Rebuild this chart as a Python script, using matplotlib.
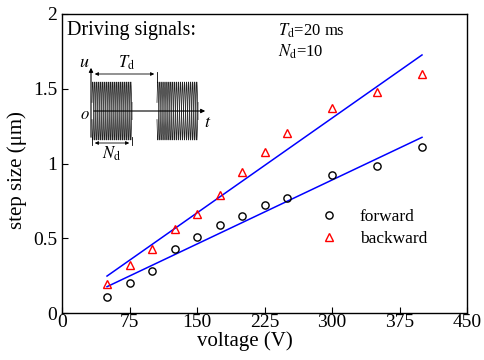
import numpy as np
import matplotlib
matplotlib.use("Agg")
import matplotlib.pyplot as plt

plt.rcParams['font.family'] = ['Liberation Serif', 'DejaVu Serif']
plt.rcParams['mathtext.fontset'] = 'stix'

voltage = [50, 75, 100, 125, 150, 175, 200, 225, 250, 300, 350, 400]
forward = [0.105, 0.203, 0.281, 0.428, 0.508, 0.591, 0.651, 0.722, 0.771, 0.923, 0.983, 1.112]
backward = [0.194, 0.321, 0.428, 0.560, 0.660, 0.789, 0.943, 1.079, 1.202, 1.371, 1.478, 1.597]
fit_x = [50, 400]
forward_fit = [0.176, 1.175]
backward_fit = [0.247, 1.726]
xticks = [0, 75, 150, 225, 300, 375, 450]
yticks = [0, 0.5, 1, 1.5, 2]
ytick_labels = ['0', '0.5', '1', '1.5', '2']
n_cycles = 10

W, H = 484, 360
fig = plt.figure(figsize=(W / 100, H / 100), dpi=100)
ax = fig.add_axes([62 / W, 1 - 313 / H, (467 - 62) / W, (313 - 14) / H])

ax.plot(fit_x, forward_fit, color='#0000ff', lw=1.1)
ax.plot(fit_x, backward_fit, color='#0000ff', lw=1.1)
ax.plot(voltage, forward, 'o', mfc='none', mec='black', ms=5.2, mew=1.0,
        label='forward', linestyle='none')
ax.plot(voltage, backward, '^', mfc='none', mec='red', ms=6, mew=1.0,
        label='backward', linestyle='none')

ax.set_xlim(0, 450)
ax.set_ylim(0, 2)
ax.set_xticks(xticks)
ax.set_xticklabels([str(v) for v in xticks])
ax.set_yticks(yticks)
ax.set_yticklabels(ytick_labels)
ax.tick_params(direction='in', length=4, width=0.8, labelsize=14, pad=1,
               top=False, right=False)
ax.tick_params(axis='y', pad=3.5)
for s in ax.spines.values():
    s.set_linewidth(1.0)
ax.set_xlabel('voltage (V)', fontsize=15)
ax.set_ylabel('step size (μm)', fontsize=15)
ax.xaxis.set_label_coords(0.452, -0.062)
ax.yaxis.set_label_coords(-0.086, 0.478)

ax.legend(loc='upper left', bbox_to_anchor=(0.62, 0.37), frameon=False,
          fontsize=12.5, handlelength=1.0, handletextpad=1.3,
          labelspacing=0.3, borderaxespad=0)

ax.text(0.012, 0.945, 'Driving signals:', transform=ax.transAxes,
        fontsize=14.5, va='center', ha='left')
ax.text(0.534, 0.945, r'$T_{\rm d}$=20 ms', transform=ax.transAxes,
        fontsize=12, va='center', ha='left')
ax.text(0.534, 0.872, r'$N_{\rm d}$=10', transform=ax.transAxes,
        fontsize=12, va='center', ha='left')

# schematic inset in pixel coordinates
x0, x1, y0, y1 = 70, 220, 55, 165
ins = fig.add_axes([x0 / W, 1 - y1 / H, (x1 - x0) / W, (y1 - y0) / H])
ins.set_xlim(x0, x1)
ins.set_ylim(y1, y0)
ins.axis('off')
ins.patch.set_alpha(0)

yc, amp = 111, 29
for bx0, bx1 in [(92, 132), (157, 198)]:
    t = np.linspace(0, 1, 800)
    xs = bx0 + t * (bx1 - bx0)
    for sgn in (1, -1):
        ins.plot(xs, yc - sgn * amp * np.sin(2 * np.pi * n_cycles * t + 0.3),
                 color='#222222', lw=0.55)

arrow = dict(arrowstyle='-|>', color='black', lw=0.8, mutation_scale=6)
ins.annotate('', xy=(91, 65), xytext=(91, 140), arrowprops=arrow)
ins.annotate('', xy=(208, yc), xytext=(91, yc), arrowprops=arrow)
dbl = dict(arrowstyle='<|-|>', color='black', lw=0.6, mutation_scale=5)
ins.annotate('', xy=(92, 74), xytext=(157, 74), arrowprops=dbl)
ins.plot([157, 157], [72, 82], color='black', lw=0.6)
ins.annotate('', xy=(92, 143), xytext=(132, 143), arrowprops=dbl)
ins.plot([92, 92], [137, 145], color='black', lw=0.6)
ins.plot([132, 132], [137, 145], color='black', lw=0.6)

ins.text(84, 63, r'$u$', fontsize=13, ha='center', va='center')
ins.text(127, 63, r'$T_{\rm d}$', fontsize=12, ha='center', va='center')
ins.text(85, 115, r'$o$', fontsize=12, ha='center', va='center')
ins.text(208, 123, r'$t$', fontsize=13, ha='center', va='center')
ins.text(112, 154, r'$N_{\rm d}$', fontsize=12, ha='center', va='center')

fig.savefig('out.png', dpi=100)
